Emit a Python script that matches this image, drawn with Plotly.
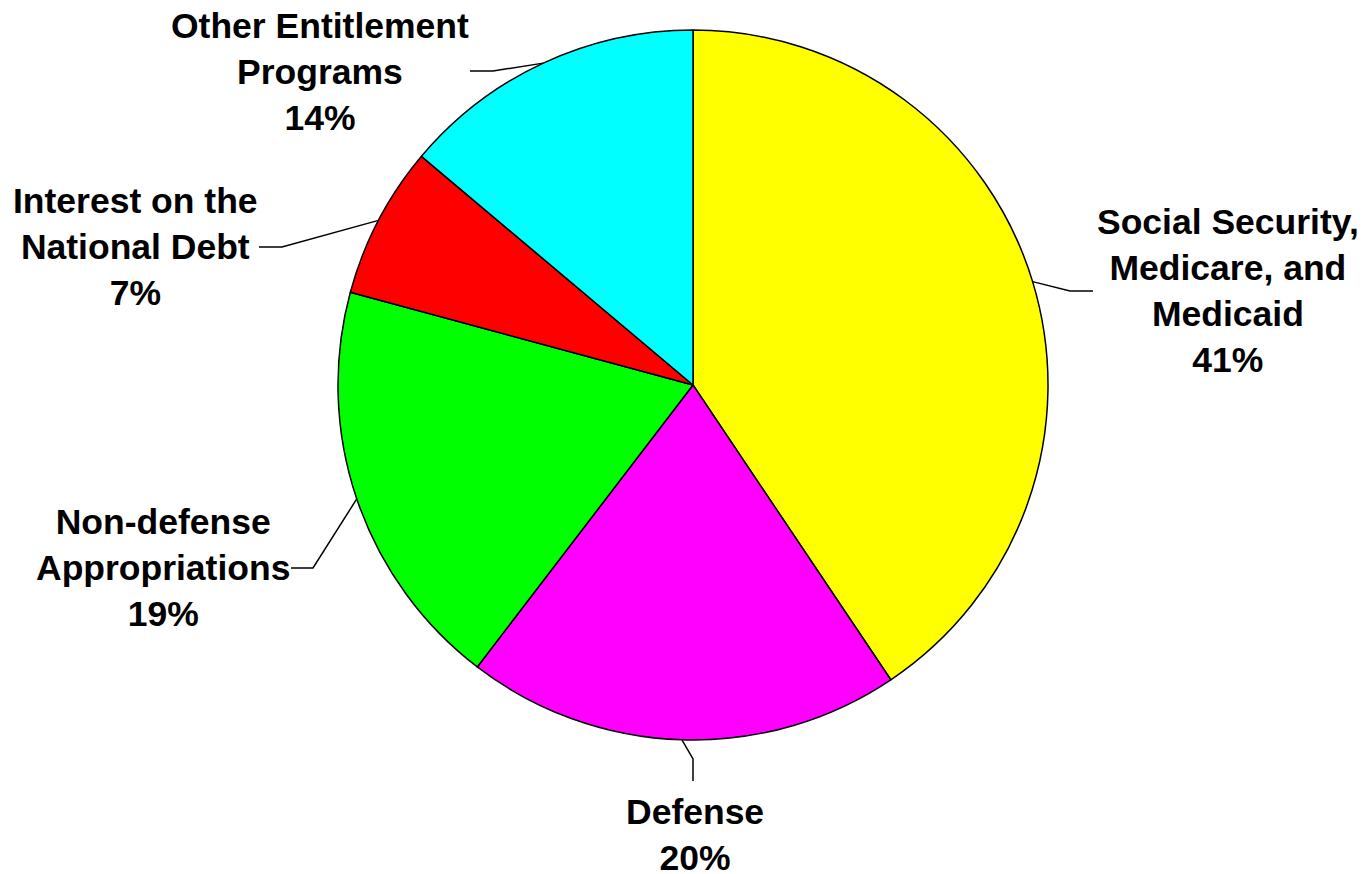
import math
import plotly.graph_objects as go

# Federal spending shares, clockwise from 12 o'clock
categories = [
    "Social Security,<br>Medicare, and<br>Medicaid",
    "Defense",
    "Non-defense<br>Appropriations",
    "Interest on the<br>National Debt",
    "Other Entitlement<br>Programs",
]
shares = [41, 20, 19, 7, 14]
colors = ["#FFFF00", "#FF00FF", "#00FF00", "#FF0000", "#00FFFF"]

W, H = 1362, 874
CX, CY, R = 693, 385, 355  # pie centre / radius in pixels

# label block centres and leader elbow/end points (pixels)
label_pos = [(1228, 291), (695, 835), (163, 568), (135, 247), (320, 72)]
leader_pts = [
    [(1070, 291), (1093, 291)],
    [(693, 759), (693, 781)],
    [(313, 568), (291, 568)],
    [(282, 247), (259, 247)],
    [(493, 71), (470, 71)],
]


def px(x, y):
    return x / W, 1 - y / H


fig = go.Figure(
    go.Pie(
        values=shares,
        labels=[c.replace("<br>", " ") for c in categories],
        marker=dict(colors=colors, line=dict(color="black", width=1.5)),
        sort=False,
        direction="clockwise",
        rotation=0,
        textinfo="none",
        hoverinfo="label+percent",
        domain=dict(x=[(CX - R) / W, (CX + R) / W], y=[1 - (CY + R) / H, 1 - (CY - R) / H]),
    )
)

total = sum(shares)
cum = 0
shapes = []
annotations = []
for cat, val, (lx, ly), pts in zip(categories, shares, label_pos, leader_pts):
    mid = (cum + val / 2) / total * 2 * math.pi
    cum += val
    sx = CX + R * math.sin(mid)
    sy = CY - R * math.cos(mid)
    path_pts = [(sx, sy)] + pts
    path = "M " + " L ".join(
        f"{px(x, y)[0]:.5f},{px(x, y)[1]:.5f}" for x, y in path_pts
    )
    shapes.append(dict(type="path", xref="paper", yref="paper", path=path,
                       line=dict(color="black", width=1.5)))
    ax, ay = px(lx, ly)
    annotations.append(dict(
        x=ax, y=ay, xref="paper", yref="paper", xanchor="center", yanchor="middle",
        text=f"{cat}<br>{val}%", showarrow=False, align="center",
        font=dict(family="Liberation Sans, Arial, sans-serif", size=35.5,
                  color="black", weight="bold"),
    ))

fig.update_layout(
    width=W, height=H,
    margin=dict(l=0, r=0, t=0, b=0),
    paper_bgcolor="white", plot_bgcolor="white",
    showlegend=False,
    shapes=shapes,
    annotations=annotations,
)

fig.write_html("out.html")
